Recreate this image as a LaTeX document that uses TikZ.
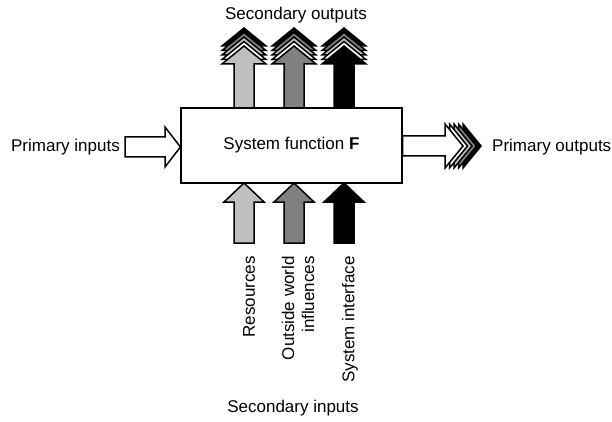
\documentclass[tikz,border=0pt]{standalone}
\usepackage{fontspec}
\setmainfont{Liberation Sans}
\definecolor{lgray}{gray}{0.75}
\definecolor{mgray}{gray}{0.5}
\tikzset{
  lbl/.style={font=\fontsize{17}{20}\selectfont, inner sep=0pt},
  blk/.style={draw=black, line width=1.5pt, line join=miter},
  sysbox/.style={draw=black, line width=1.2pt, minimum width=221pt, minimum height=75pt, inner sep=0pt},
}
% input arrow pointing up, tip at (#1,#2)
\newcommand\inarrow[3]{%
  \filldraw[blk, fill=#3] (#1-10,#2+60) -- (#1-10,#2+19) -- (#1-20,#2+19) -- (#1,#2)
    -- (#1+20,#2+19) -- (#1+10,#2+19) -- (#1+10,#2+60) -- cycle;}
% output arrow pointing up with stacked heads, shaft foot at (#1,#2)
\newcommand\outarrow[3]{%
  \foreach \k/\c in {4/black,3/mgray,2/lgray,1/white}{
    \filldraw[blk, fill=\c] (#1-22,64-4.5*\k) -- (#1,46-4.5*\k) -- (#1+22,64-4.5*\k) -- cycle;}
  \filldraw[blk, fill=#3] (#1-10,#2) -- (#1-10,64) -- (#1-22,64) -- (#1,46)
    -- (#1+22,64) -- (#1+10,64) -- (#1+10,#2) -- cycle;}
\begin{document}
\begin{tikzpicture}[x=1pt,y=-1pt]
\useasboundingbox (0,0) rectangle (612,422);

% system block
\node[sysbox, lbl] (F) at (291.5,145.5) {System function \textbf{F}};

% secondary outputs
\outarrow{244}{108}{lgray}
\outarrow{294}{108}{mgray}
\outarrow{344}{108}{black}
\node[lbl] (so) at (296,15) {Secondary outputs};

% secondary inputs
\inarrow{244}{183}{lgray}
\inarrow{294}{183}{mgray}
\inarrow{344}{183}{black}
\node[lbl, rotate=90, anchor=east] (res) at (249,256) {Resources};
\node[lbl, rotate=90, anchor=east, align=right] (ow) at (298,256) {Outside world\\influences};
\node[lbl, rotate=90, anchor=east] (si) at (350,256) {System interface};
\node[lbl] (sin) at (293,408) {Secondary inputs};

% primary input
\node[lbl, anchor=east] (pin) at (120,147) {Primary inputs};
\filldraw[blk, fill=white] (125,137) -- (165,137) -- (165,127) -- (F.west |- 0,147)
  -- (165,167) -- (165,157) -- (125,157) -- cycle;

% primary output with stacked heads
\foreach \k/\c in {4/black,3/mgray,2/lgray,1/white}{
  \filldraw[blk, fill=\c] (445+4.5*\k,124) -- (463+4.5*\k,146) -- (445+4.5*\k,168) -- cycle;}
\filldraw[blk, fill=white] (F.east |- 0,136) -- (445,136) -- (445,124) -- (463,146)
  -- (445,168) -- (445,156) -- (F.east |- 0,156) -- cycle;
\node[lbl, anchor=west] (pout) at (492,147) {Primary outputs};
\end{tikzpicture}
\end{document}
